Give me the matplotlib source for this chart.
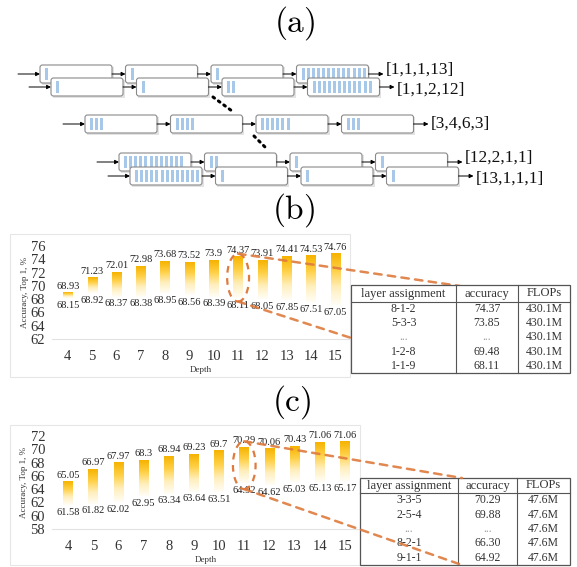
import numpy as np
import matplotlib
matplotlib.use("Agg")
import matplotlib.pyplot as plt
from matplotlib.patches import FancyBboxPatch, Rectangle, Ellipse, ConnectionPatch
from matplotlib.colors import LinearSegmentedColormap

# (a) layer assignment of each row of blocks
assignments = [[1, 1, 1, 13], [1, 1, 2, 12], [3, 4, 6, 3], [12, 2, 1, 1], [13, 1, 1, 1]]

# (b) / (c) accuracy range per depth
depth = [4, 5, 6, 7, 8, 9, 10, 11, 12, 13, 14, 15]
b_high = [68.93, 71.23, 72.01, 72.98, 73.68, 73.52, 73.9, 74.37, 73.91, 74.41, 74.53, 74.76]
b_low = [68.15, 68.92, 68.37, 68.38, 68.95, 68.56, 68.39, 68.11, 68.05, 67.85, 67.51, 67.05]
c_high = [65.05, 66.97, 67.97, 68.3, 68.94, 69.23, 69.7, 70.29, 70.06, 70.43, 71.06, 71.06]
c_low = [61.58, 61.82, 62.02, 62.95, 63.34, 63.64, 63.51, 64.92, 64.62, 65.03, 65.13, 65.17]
b_yticks = [62, 64, 66, 68, 70, 72, 74, 76]
c_yticks = [58, 60, 62, 64, 66, 68, 70, 72]

table_header = ["layer assignment", "accuracy", "FLOPs"]
b_rows = [["8-1-2", "74.37", "430.1M"],
          ["5-3-3", "73.85", "430.1M"],
          ["...", "...", "430.1M"],
          ["1-2-8", "69.48", "430.1M"],
          ["1-1-9", "68.11", "430.1M"]]
c_rows = [["3-3-5", "70.29", "47.6M"],
          ["2-5-4", "69.88", "47.6M"],
          ["...", "...", "47.6M"],
          ["8-2-1", "66.30", "47.6M"],
          ["9-1-1", "64.92", "47.6M"]]
highlight_depth = 11

plt.rcParams["mathtext.fontset"] = "cm"
serif = "Liberation Serif"
W, H = 577, 567
fig = plt.figure(figsize=(W / 100, H / 100), dpi=100)
fig.set_facecolor("white")

# overlay in pixel coordinates
ov = fig.add_axes([0, 0, 1, 1], zorder=10)
ov.set_xlim(0, W)
ov.set_ylim(H, 0)
ov.axis("off")
ov.patch.set_alpha(0)

orange = "#DE7B3E"
gold = LinearSegmentedColormap.from_list(
    "gold", ["#FFFDF6", "#FFEFBD", "#FFD046", "#F6B300"])


def px_axes(left, top, right, bottom):
    return fig.add_axes([left / W, 1 - bottom / H, (right - left) / W, (bottom - top) / H])


def bar_chart(ax, high, low, yticks, xlim):
    grad = np.linspace(0, 1, 200).reshape(-1, 1)
    for d, hi, lo in zip(depth, high, low):
        ax.imshow(grad, cmap=gold, origin="lower", aspect="auto",
                  extent=[d - 0.19, d + 0.19, lo, hi], zorder=2)
        ax.annotate(f"{hi:g}", (d, hi), xytext=(0, 1.5), textcoords="offset points",
                    ha="center", va="bottom", fontsize=7.5, family=serif, color="#222222")
        ax.annotate(f"{lo:g}", (d, lo), xytext=(0, -2), textcoords="offset points",
                    ha="center", va="top", fontsize=7.5, family=serif, color="#222222")
    ax.set_xlim(*xlim)
    ax.set_ylim(yticks[0], yticks[-1])
    ax.set_xticks(depth)
    ax.set_yticks(yticks)
    ax.set_xticklabels([str(d) for d in depth], family=serif, fontsize=10.5, color="#333333")
    ax.set_yticklabels([str(t) for t in yticks], family=serif, fontsize=10.5, color="#333333")
    ax.tick_params(length=0)
    ax.tick_params(axis="x", pad=8)
    ax.tick_params(axis="y", pad=5)
    for s in ["top", "right", "left"]:
        ax.spines[s].set_visible(False)
    ax.spines["bottom"].set_color("#E2E2E2")
    ax.spines["bottom"].set_linewidth(0.8)
    ax.patch.set_alpha(0)
    ax.text(0.5, -0.33, "Depth", transform=ax.transAxes, ha="center", va="center",
            fontsize=6.5, family=serif, color="#333333")
    ax.text(-0.09, 0.5, "Accuracy, Top 1, %", transform=ax.transAxes, ha="center",
            va="center", rotation=90, fontsize=6.5, family=serif, color="#333333")
    i = depth.index(highlight_depth)
    mid = (high[i] + low[i]) / 2
    ax.add_patch(Ellipse((highlight_depth, mid), 0.9, 7.2, fill=False, ec=orange,
                         lw=1.6, ls=(0, (3, 2.5)), zorder=5))
    return mid


def draw_table(left, top, cols, bottom, head_sep, rows, z):
    right = cols[-1]
    ov.add_patch(Rectangle((left, top), right - left, bottom - top, fc="white",
                           ec="#555555", lw=0.9, zorder=z))
    ov.plot([left, right], [head_sep, head_sep], color="#555555", lw=0.8, zorder=z + 0.1)
    for cx in cols[:-1]:
        ov.plot([cx, cx], [top, bottom], color="#555555", lw=0.8, zorder=z + 0.1)
    edges = [left] + cols
    centers = [(edges[k] + edges[k + 1]) / 2 for k in range(3)]
    for k, h in enumerate(table_header):
        ov.text(centers[k], (top + head_sep) / 2, h, ha="center", va="center",
                fontsize=9, family=serif, color="#333333", zorder=z + 0.2)
    rh = (bottom - head_sep) / len(rows)
    for r, row in enumerate(rows):
        yc = head_sep + rh * (r + 0.5)
        for k, val in enumerate(row):
            ov.text(centers[k], yc, val, ha="center", va="center", fontsize=8.5,
                    family=serif, color="#333333" if val != "..." else "#999999",
                    zorder=z + 0.2)


# ---------------- (a) diagram ----------------
ov.text(295, 23, r"$\mathrm{(a)}$", fontsize=24, ha="center", va="center")
row_x = [40, 51, 85, 119, 130]
row_y = [65, 78, 115, 153, 167]
label_dy = [-4, 3, 0, -4, 3]
bw, bh, pitch = 72, 18, 85.5
for r, (a, x0, y0) in enumerate(zip(assignments, row_x, row_y)):
    z = 1 + r
    yc = y0 + bh / 2
    ov.annotate("", xy=(x0, yc), xytext=(x0 - 22, yc),
                arrowprops=dict(arrowstyle="-|>", color="k", lw=0.7, mutation_scale=6,
                                shrinkA=0, shrinkB=0), zorder=z)
    for k, n in enumerate(a):
        bx = x0 + k * pitch
        ov.add_patch(Rectangle((bx + 1.5, y0 + 1.5), bw, bh, fc="#BBBBBB", ec="none",
                               alpha=0.4, zorder=z))
        ov.add_patch(FancyBboxPatch((bx, y0), bw, bh,
                                    boxstyle="round,pad=0,rounding_size=2.5",
                                    fc="white", ec="#8A8A8A", lw=0.8, zorder=z))
        for s in range(n):
            ov.add_patch(Rectangle((bx + 5 + s * 5.1, y0 + 3), 3, bh - 6, fc="#A7C8E8",
                                   ec="none", zorder=z))
        end = bx + bw + (pitch - bw if k < len(a) - 1 else 15)
        ov.annotate("", xy=(end, yc), xytext=(bx + bw, yc),
                    arrowprops=dict(arrowstyle="-|>", color="k", lw=0.7, mutation_scale=6,
                                    shrinkA=0, shrinkB=0), zorder=z)
    label = "[" + ",".join(str(n) for n in a) + "]"
    ov.text(x0 + 3 * pitch + bw + 17, yc + label_dy[r], label, ha="left", va="center",
            fontsize=12.5, family=serif, color="#111111", zorder=z)

ov.plot([213, 232], [97, 111], color="k", lw=2.2, ls=(0, (0.6, 1.6)),
        dash_capstyle="round", zorder=8)
ov.plot([254, 268], [136, 150], color="k", lw=2.2, ls=(0, (0.6, 1.6)),
        dash_capstyle="round", zorder=8)

# ---------------- (b) ----------------
ov.text(294, 210, r"$\mathrm{(b)}$", fontsize=24, ha="center", va="center")
ov.add_patch(Rectangle((10, 234), 340, 143, fill=False, ec="#E6E6E6", lw=0.8, zorder=0))
ax_b = px_axes(52, 246, 350, 339)
mid_b = bar_chart(ax_b, b_high, b_low, b_yticks, (3.35, 15.6))
for yv, yt in [(mid_b + 3.6, 286), (mid_b - 3.6, 373)]:
    con = ConnectionPatch(xyA=(highlight_depth, yv), coordsA=ax_b.transData,
                          xyB=(460, yt), coordsB=ov.transData, color=orange, lw=1.8,
                          ls=(0, (3, 2.5)), zorder=15, alpha=0.9)
    ov.add_artist(con)
draw_table(351, 285, [456, 518, 570], 373, 302, b_rows, 20)

# ---------------- (c) ----------------
ov.text(292, 402, r"$\mathrm{(c)}$", fontsize=24, ha="center", va="center")
ov.add_patch(Rectangle((10, 425), 350, 140, fill=False, ec="#E6E6E6", lw=0.8, zorder=0))
ax_c = px_axes(52, 436, 360, 529)
mid_c = bar_chart(ax_c, c_high, c_low, c_yticks, (3.36, 15.6))
draw_table(360, 478, [458, 517, 570], 565, 493, c_rows, 12)
for yv, yt in [(mid_c + 3.6, 478), (mid_c - 3.6, 565)]:
    con = ConnectionPatch(xyA=(highlight_depth, yv), coordsA=ax_c.transData,
                          xyB=(462, yt), coordsB=ov.transData, color=orange, lw=1.8,
                          ls=(0, (3, 2.5)), zorder=15, alpha=0.9)
    ov.add_artist(con)

fig.savefig("out.png", dpi=100)
